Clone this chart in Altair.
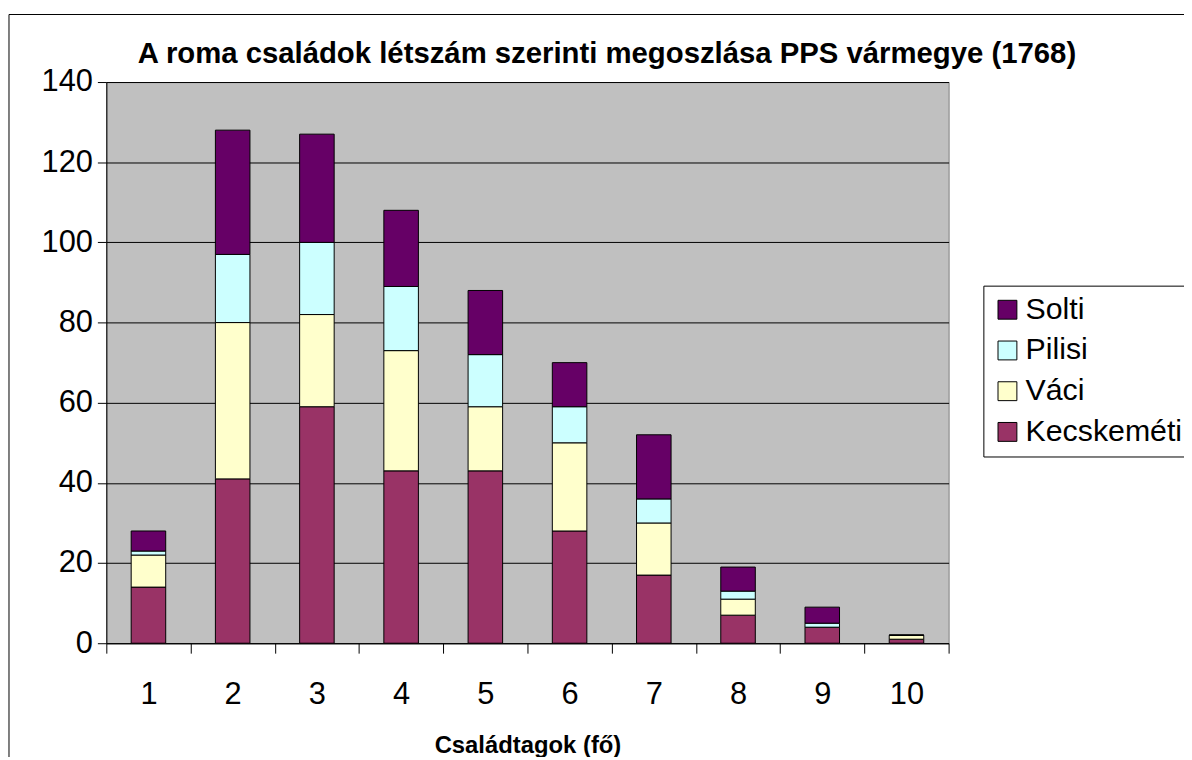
import altair as alt
import pandas as pd

sizes = [1, 2, 3, 4, 5, 6, 7, 8, 9, 10]
kecskemeti = [14, 41, 59, 43, 43, 28, 17, 7, 4, 1]
vaci = [8, 39, 23, 30, 16, 22, 13, 4, 0, 1]
pilisi = [1, 17, 18, 16, 13, 9, 6, 2, 1, 0]
solti = [5, 31, 27, 19, 16, 11, 16, 6, 4, 0]

series_names = ["Kecskeméti", "Váci", "Pilisi", "Solti"]
series_values = [kecskemeti, vaci, pilisi, solti]
legend_order = ["Solti", "Pilisi", "Váci", "Kecskeméti"]
legend_colors = ["#660066", "#CCFFFF", "#FFFFCC", "#993366"]

y_ticks = [0, 20, 40, 60, 80, 100, 120, 140]

title_text = "A roma családok létszám szerinti megoszlása PPS vármegye (1768)"
x_title = "Családtagok (fő)"

rows = []
for idx, (name, vals) in enumerate(zip(series_names, series_values)):
    for s, v in zip(sizes, vals):
        rows.append({"size": s, "county": name, "value": v, "stack_idx": idx})
df = pd.DataFrame(rows)

FONT = "Liberation Sans"

bars = alt.Chart(df).mark_bar(
    width=alt.RelativeBandSize(0.41), stroke="black", strokeWidth=1
).encode(
    x=alt.X(
        "size:O",
        sort=sizes,
        scale=alt.Scale(paddingInner=0, paddingOuter=0),
        axis=alt.Axis(
            title=x_title,
            tickBand="extent",
            labelAngle=0,
            labelFontSize=31,
            labelPadding=27,
            tickSize=10,
            tickColor="black",
            domainColor="black",
            titleFontSize=24,
            titleFontWeight="bold",
            titlePadding=24,
            grid=False,
        ),
    ),
    y=alt.Y(
        "value:Q",
        stack="zero",
        scale=alt.Scale(domain=[0, 140], nice=False),
        axis=alt.Axis(
            title=None,
            values=y_ticks,
            labelFontSize=31,
            labelPadding=5,
            tickSize=9,
            tickColor="black",
            domainColor="black",
            grid=True,
            gridColor="black",
            gridWidth=1,
            gridOpacity=1,
        ),
    ),
    color=alt.Color(
        "county:N",
        scale=alt.Scale(domain=legend_order, range=legend_colors),
        legend=alt.Legend(
            title=None,
            orient="none",
            legendX=883,
            legendY=205,
            padding=9,
            strokeColor="black",
            fillColor="white",
            symbolType="square",
            symbolSize=361,
            symbolStrokeColor="black",
            symbolStrokeWidth=1,
            symbolOpacity=1,
            labelFontSize=30.5,
            labelOffset=3,
            labelLimit=400,
            rowPadding=10,
        ),
    ),
    order=alt.Order("stack_idx:Q"),
)

frame = alt.Chart(pd.DataFrame({"f": [0]})).mark_rect(
    fillOpacity=0, stroke="black", strokeWidth=1
).encode(
    x=alt.value(-98), x2=alt.value(1100), y=alt.value(-68), y2=alt.value(720)
)

chart = alt.layer(frame, bars).properties(
    width=848,
    height=565,
    title=alt.Title(
        title_text,
        fontSize=29.5,
        fontWeight="bold",
        font=FONT,
        anchor="middle",
        frame="group",
        dx=80,
        dy=70,
        offset=14,
    ),
    autosize=alt.AutoSizeParams(type="none"),
    padding={"left": 99, "top": 72, "right": 237, "bottom": 112},
).configure(
    font=FONT,
).configure_view(
    fill="#C0C0C0", stroke="#808080", strokeWidth=1
).configure_axis(
    labelFont=FONT, titleFont=FONT, labelColor="black", titleColor="black"
).configure_legend(
    labelFont=FONT, labelColor="black"
)

chart.save("out.html", embed_options={"renderer": "svg", "actions": False})
